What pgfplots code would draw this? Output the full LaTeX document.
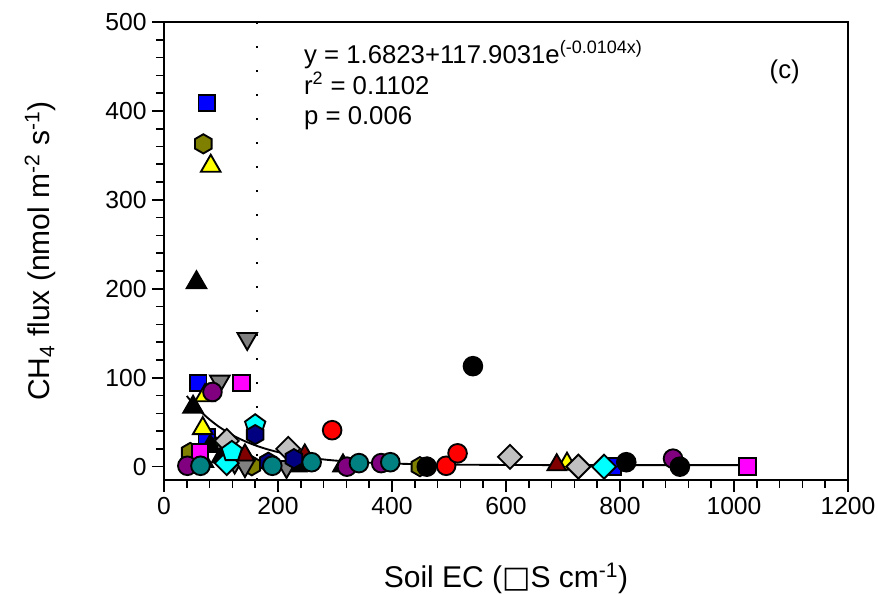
\documentclass[border=0pt]{standalone}
\usepackage{pgfplots}
\pgfplotsset{compat=1.18}
\usepackage{fontspec}
\setmainfont{Liberation Sans}
\newfontfamily\dejavu{DejaVu Sans}
\usetikzlibrary{plotmarks}

% pointy-top hexagon and a square diamond
\pgfdeclareplotmark{hexagon*}{%
  \pgfpathmoveto{\pgfqpointpolar{90}{\pgfplotmarksize}}%
  \pgfpathlineto{\pgfqpointpolar{150}{\pgfplotmarksize}}%
  \pgfpathlineto{\pgfqpointpolar{210}{\pgfplotmarksize}}%
  \pgfpathlineto{\pgfqpointpolar{270}{\pgfplotmarksize}}%
  \pgfpathlineto{\pgfqpointpolar{330}{\pgfplotmarksize}}%
  \pgfpathlineto{\pgfqpointpolar{30}{\pgfplotmarksize}}%
  \pgfpathclose\pgfusepathqfillstroke}
\pgfdeclareplotmark{sqdiamond*}{%
  \pgfpathmoveto{\pgfqpoint{0pt}{\pgfplotmarksize}}%
  \pgfpathlineto{\pgfqpoint{\pgfplotmarksize}{0pt}}%
  \pgfpathlineto{\pgfqpoint{0pt}{-\pgfplotmarksize}}%
  \pgfpathlineto{\pgfqpoint{-\pgfplotmarksize}{0pt}}%
  \pgfpathclose\pgfusepathqfillstroke}

\definecolor{spblue}{RGB}{0,0,255}
\definecolor{spolive}{RGB}{128,128,0}
\definecolor{spyellow}{RGB}{255,255,0}
\definecolor{spgray}{RGB}{128,128,128}
\definecolor{spmag}{RGB}{255,0,255}
\definecolor{sppurple}{RGB}{128,0,128}
\definecolor{spred}{RGB}{255,0,0}
\definecolor{spteal}{RGB}{0,128,128}
\definecolor{splgray}{RGB}{192,192,192}
\definecolor{spcyan}{RGB}{0,255,255}
\definecolor{spnavy}{RGB}{0,0,128}
\definecolor{spdred}{RGB}{128,0,0}
\definecolor{spgreen}{RGB}{0,255,0}

\pgfplotsset{pt/.style={only marks, draw=black, line width=1.4pt}}

\begin{document}
\begin{tikzpicture}
\begin{axis}[
  scale only axis, width=513pt, height=343.5pt,
  xmin=0, xmax=1200, ymin=-15, ymax=500,
  xtick={0,200,...,1200}, ytick={0,100,...,500},
  minor x tick num=4, minor y tick num=4,
  tick pos=left, tick align=outside,
  major tick length=9pt, minor tick length=6pt,
  every axis/.append style={line width=1.6pt},
  every tick/.style={black, line width=1.2pt},
  tick label style={font=\fontsize{18.5}{21}\selectfont},
  /pgf/number format/assume math mode=true,
  /pgf/number format/1000 sep={},
  scaled ticks=false,
  label style={font=\fontsize{22.5}{26}\selectfont},
  xlabel={Soil EC ({\dejavu □}S cm\textsuperscript{-1})},
  ylabel={CH\textsubscript{4} flux (nmol m\textsuperscript{-2} s\textsuperscript{-1})},
  xlabel style={at={(axis description cs:0.5,-0.214)}, anchor=center},
  ylabel style={at={(axis description cs:-0.181,0.5)}, anchor=center},
  clip=false,
]
% fitted curve y = 1.6823+117.9031 exp(-0.0104x), tabulated
\addplot[black, line width=1.4pt, smooth] coordinates {
  (40,79.46)(50,71.77)(60,64.85)(70,58.62)(80,52.99)(90,47.93)(100,43.36)
  (120,35.53)(140,29.18)(160,24.01)(180,19.81)(200,16.41)(230,12.46)
  (260,9.57)(300,6.89)(350,4.78)(400,3.52)(450,2.78)(500,2.33)(600,1.91)
  (700,1.76)(800,1.71)(900,1.69)(1020,1.68)};
% dotted reference line
\addplot[black, line width=1.5pt, dash pattern=on 1.5pt off 16.5pt]
  coordinates {(164,-15)(164,500)};

\addplot[pt, mark=square*, mark size=6.2pt, fill=spblue]
  coordinates {(75,409)(60,94)(75,33)(788,0)};
\addplot[pt, mark=hexagon*, mark size=7.2pt, fill=spolive]
  coordinates {(69,363)(46,16)(154,1)(449,0)};
\addplot[pt, mark=triangle*, mark size=8.5pt, fill=spyellow]
  coordinates {(82,338)(72,80)(68,43)(707,3)};
\addplot[pt, mark=triangle*, mark size=4.5pt, fill=spgreen]
  coordinates {(90,27)(463,3)};
\addplot[pt, mark=triangle*, mark size=8.5pt, fill=black]
  coordinates {(57,207)(51,67)(81,23)(101,11)(69,6)(233,1)(314,1)};
\addplot[pt, mark=triangle*, mark size=8.5pt, fill=spgray, mark options={rotate=180}]
  coordinates {(146,144)(98,96)(124,5)(142,1)(215,0)};
\addplot[pt, mark=square*, mark size=6.2pt, fill=spmag]
  coordinates {(136,94)(63,16)(1024,0)};
\addplot[pt, mark=triangle*, mark size=8pt, fill=spdred]
  coordinates {(142,13)(247,13)(689,2)};
\addplot[pt, mark=sqdiamond*, mark size=9pt, fill=splgray]
  coordinates {(110,29)(218,20)(607,11)(727,0)};
\addplot[pt, mark=sqdiamond*, mark size=9pt, fill=spcyan]
  coordinates {(110,4)(772,0)};
\addplot[pt, mark=pentagon*, mark size=8pt, fill=spcyan]
  coordinates {(160,47)(119,17)};
\addplot[pt, mark=hexagon*, mark size=7.2pt, fill=spnavy]
  coordinates {(160,36)(183,5)(228,9)};
\addplot[pt, mark=*, mark size=7pt, fill=sppurple]
  coordinates {(85,84)(41,1)(321,0)(381,4)(893,9)};
\addplot[pt, mark=*, mark size=7pt, fill=spred]
  coordinates {(295,41)(495,1)(515,15)};
\addplot[pt, mark=*, mark size=7pt, fill=black]
  coordinates {(542,113)(461,0)(811,5)(905,0)};
\addplot[pt, mark=*, mark size=7pt, fill=spteal]
  coordinates {(64,1)(190,1)(259,5)(342,4)(397,5)};

\node[anchor=base west, inner sep=0pt, font=\fontsize{19.3}{22}\selectfont]
  at (axis cs:244,453.5) {y = 1.6823+117.9031e\textsuperscript{(-0.0104x)}};
\node[anchor=base west, inner sep=0pt, font=\fontsize{19.3}{22}\selectfont]
  at (axis cs:244,418) {r\textsuperscript{2} = 0.1102};
\node[anchor=base west, inner sep=0pt, font=\fontsize{19.3}{22}\selectfont]
  at (axis cs:244,385) {p = 0.006};
\node[font=\fontsize{19.3}{22}\selectfont] at (axis cs:1089,444) {(c)};
\end{axis}
\pgfresetboundingbox
\path ([xshift=-123pt,yshift=-85.5pt]current axis.south west)
  rectangle ([xshift=22.5pt,yshift=16.5pt]current axis.north east);
\end{tikzpicture}
\end{document}
